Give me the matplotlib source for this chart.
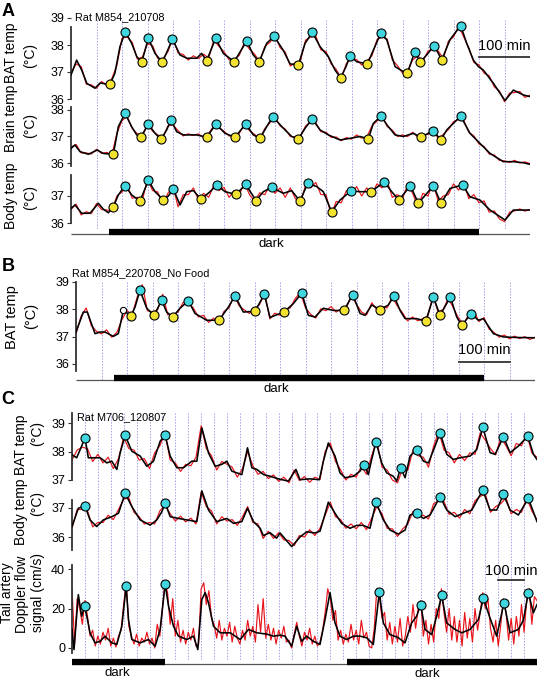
import numpy as np
import matplotlib
matplotlib.use("Agg")
import matplotlib.pyplot as plt

plt.rcParams['font.family'] = ['Liberation Sans', 'DejaVu Sans']

W, H = 546, 685

# ---------------- data (time in minutes) ----------------
# Panel A, Rat M854_210708 : BAT temp
a_bat_t = [0, 11, 21, 31, 47, 57, 76.5, 86, 96, 106.5, 119, 129, 138.6, 151.7, 164.7, 179, 199, 213.7, 227, 246.5,
           256, 266, 283.7, 298.7, 320, 344.5, 357.5, 369, 383.7, 398, 416, 429.5, 445.8, 458.9, 473.3, 488.3, 504.6,
           517.7, 528.8, 539.3, 547.1, 560.2, 581.1, 592.9, 607.2, 619, 635.4, 648.4, 659.6, 673.9, 684.4, 697.4, 711.8,
           720.3, 726.8, 743.2, 764.1, 775.9, 789, 798.8, 808.6, 828.2, 851.1, 867.4, 887, 900]
a_bat_v = [36.89, 37.44, 37.07, 36.58, 36.40, 36.59, 36.54, 36.95, 37.94, 38.49, 38.06, 37.57, 37.36, 38.25, 37.69, 37.36,
           38.21, 37.63, 37.51, 37.51, 37.69, 37.42, 38.25, 37.69, 37.38, 38.15, 37.63, 37.38, 38.06, 38.33, 37.81, 37.30,
           37.26, 38.06, 38.47, 37.94, 37.57, 37.07, 36.79, 37.20, 37.60, 37.38, 37.30, 37.81, 38.43, 38.20, 37.20, 37.05,
           36.95, 37.75, 37.36, 37.63, 37.97, 37.69, 37.44, 38.20, 38.72, 38.06, 37.44, 37.20, 37.07, 36.58, 35.94, 36.33,
           36.15, 36.09]
a_bat_raw = [36.95, 37.30, 37.20, 36.55, 36.52, 36.40, 36.65, 36.50, 36.75, 37.25,
             38.25, 38.30, 38.10, 37.48, 37.55, 38.05, 37.98, 37.50, 37.48, 37.75,
             38.28, 37.70, 37.65, 37.44, 37.60, 37.50, 37.66, 37.52, 38.18, 37.95,
             37.75, 37.45, 37.46, 37.62, 38.10, 37.85, 37.66, 37.38, 37.95, 38.10,
             38.36, 37.90, 37.74, 37.22, 37.35, 37.42, 38.18, 38.30, 38.33, 37.82,
             37.76, 37.30, 37.10, 36.76, 37.32, 37.48, 37.46, 37.26, 37.40, 37.60,
             38.20, 38.30, 38.22, 37.45, 37.24, 36.96, 37.05, 37.45, 37.60, 37.40,
             37.78, 37.85, 37.78, 37.50, 38.14, 38.30, 38.70, 38.30, 37.90, 37.35,
             37.26, 36.96, 36.86, 36.45, 36.30, 35.90, 36.22, 36.24, 36.28, 36.06,
             36.14]
a_bat_peak_t = [106.5, 151.7, 199, 283.7, 344.5, 398, 473.3, 547.1, 607.2, 673.9, 711.8, 764.1]
a_bat_peak_v = [38.49, 38.25, 38.21, 38.25, 38.15, 38.33, 38.47, 37.60, 38.43, 37.75, 37.97, 38.72]
a_bat_low_t = [76.5, 138.6, 179, 266, 320, 369, 445.8, 528.8, 581.1, 659.6, 684.4, 726.8]
a_bat_low_v = [36.54, 37.36, 37.36, 37.42, 37.38, 37.38, 37.26, 36.79, 37.30, 36.95, 37.36, 37.44]

# Panel A : Brain temp
a_brain_t = [0, 7.8, 17.6, 34, 51.6, 63.4, 83, 92.8, 105.9, 119, 128.8, 137.3, 151.7, 164.8, 176.5, 187.6, 196.1, 207.2,
             220.3, 246.4, 266, 284.3, 302, 321.6, 342.5, 357.5, 370.6, 383.7, 395.5, 416.4, 432.7, 445.8, 458.9, 472.9,
             488.3, 504.6, 527.5, 547.1, 566.7, 583, 592.9, 608, 619, 635.4, 651.7, 671.3, 685.7, 710.5, 725, 736.8,
             753.2, 764, 782.3, 798.8, 821.7, 847.8, 867.4, 887, 900]
a_brain_v = [36.55, 36.68, 36.43, 36.33, 36.49, 36.36, 36.33, 37.37, 37.87, 37.37, 37.06, 36.99, 37.47, 37.12, 36.89,
             37.25, 37.62, 37.18, 37.06, 37.06, 36.97, 37.47, 37.12, 36.97, 37.47, 37.06, 36.93, 37.37, 37.75, 37.31,
             37.0, 36.91, 37.31, 37.66, 37.25, 37.06, 36.87, 36.93, 37.0, 36.91, 37.5, 37.77, 37.45, 37.06, 37.0, 37.12,
             36.97, 37.22, 36.87, 37.25, 37.56, 37.77, 37.12, 36.8, 36.36, 36.05, 36.05, 36.01, 35.95]
a_brain_raw = [36.60, 36.70, 36.38, 36.38, 36.34, 36.52, 36.36, 36.40, 36.30, 37.12,
               37.60, 37.76, 37.30, 37.10, 37.02, 37.46, 37.20, 37.06, 36.96, 37.40,
               37.44, 37.22, 37.02, 37.10, 37.04, 37.10, 36.96, 37.12, 37.40, 37.32,
               37.20, 37.02, 37.02, 37.12, 37.46, 37.22, 37.08, 36.90, 37.30, 37.52,
               37.72, 37.40, 37.28, 37.00, 36.98, 37.00, 37.40, 37.55, 37.52, 37.18,
               37.16, 36.97, 36.98, 36.84, 36.96, 36.90, 37.06, 36.94, 36.98, 37.40,
               37.58, 37.78, 37.38, 37.24, 37.00, 37.06, 37.00, 37.16, 36.98, 37.06,
               37.08, 37.26, 36.92, 37.08, 37.26, 37.56, 37.64, 37.62, 37.16, 37.02,
               36.72, 36.62, 36.34, 36.30, 36.10, 36.08, 36.02, 36.10, 36.00, 36.04,
               35.98]
a_brain_peak_t = [105.9, 151.7, 196.1, 284.3, 342.5, 395.5, 472.9, 608, 710.5, 764]
a_brain_peak_v = [37.87, 37.47, 37.62, 37.47, 37.47, 37.75, 37.66, 37.77, 37.22, 37.77]
a_brain_low_t = [83, 137.3, 176.5, 266, 321.6, 370.6, 445.8, 583, 685.7, 725]
a_brain_low_v = [36.33, 36.99, 36.89, 36.97, 36.97, 36.93, 36.91, 36.91, 36.97, 36.87]

# Panel A : Body temp
a_body_t = [0, 7.8, 20.9, 37.3, 53.7, 63.5, 73.3, 83, 92.8, 105.9, 119, 135.3, 151.7, 164.8, 181.1, 190.9, 200.7, 213.8,
            226.9, 240, 255, 272.7, 285.7, 302, 323.6, 342.5, 362.8, 377.2, 393.5, 416.4, 432.7, 449, 464.1, 481.7,
            494.7, 511.1, 527.5, 549.1, 566.7, 588.3, 614.4, 628.8, 642.9, 665.5, 681.1, 710.5, 725.6, 743.2, 768,
            782.3, 801.9, 821.5, 851.1, 867.4, 900]
a_body_v = [36.54, 36.67, 36.36, 36.36, 36.73, 36.51, 36.38, 36.6, 37.04, 37.38, 37.04, 36.81, 37.58, 37.16, 36.85, 37.0,
            37.25, 36.67, 37.16, 37.2, 36.88, 37.16, 37.41, 37.16, 37.06, 37.43, 36.83, 37.16, 37.32, 37.1, 37.2, 36.81,
            37.47, 37.35, 37.16, 36.41, 36.85, 37.19, 37.16, 37.16, 37.52, 37.16, 36.85, 37.38, 36.73, 37.38, 36.73,
            37.28, 37.41, 36.97, 36.85, 36.48, 36.11, 36.48, 36.48]
a_body_raw = [36.50, 36.70, 36.30, 36.42, 36.35, 36.72, 36.50, 36.48, 36.45, 37.00,
              37.15, 37.40, 36.92, 36.95, 36.85, 37.62, 37.20, 37.15, 36.70, 37.10,
              37.35, 36.60, 37.05, 37.05, 37.30, 36.85, 37.10, 36.95, 37.40, 37.20,
              37.32, 36.95, 37.20, 37.05, 37.48, 37.05, 36.80, 37.12, 37.05, 37.40,
              37.10, 37.30, 36.95, 37.30, 36.90, 36.75, 37.40, 37.30, 37.50, 37.05,
              37.05, 36.30, 36.80, 36.75, 37.20, 37.05, 37.35, 37.00, 37.30, 37.05,
              37.45, 37.30, 37.55, 36.95, 37.05, 36.90, 37.42, 37.10, 36.60, 37.10,
              37.00, 37.50, 36.80, 37.00, 37.05, 37.45, 37.22, 37.50, 36.90, 37.05,
              36.75, 36.82, 36.40, 36.45, 36.15, 36.05, 36.40, 36.45, 36.52, 36.44,
              36.50]
a_body_peak_t = [105.9, 151.7, 200.7, 285.7, 342.5, 393.5, 464.1, 549.1, 614.4, 665.5, 710.5, 768]
a_body_peak_v = [37.38, 37.58, 37.25, 37.41, 37.43, 37.32, 37.47, 37.19, 37.52, 37.38, 37.38, 37.41]
a_body_low_t = [83, 135.3, 181.1, 255, 323.6, 362.8, 449, 511.1, 588.3, 642.9, 681.1, 725.6]
a_body_low_v = [36.6, 36.81, 36.85, 36.88, 37.06, 36.83, 36.81, 36.41, 37.16, 36.85, 36.73, 36.73]

# Panel B, Rat M854_220708_No Food : BAT temp
b_bat_t = [0, 14.4, 22.2, 37.3, 47.1, 56.9, 73.2, 83, 92.8, 107.9, 115.7, 125.5, 138.6, 153, 168, 177.8, 189.6, 203.9,
           220.3, 233.3, 256.2, 280.4, 298.7, 311.8, 328.1, 351, 369.3, 380.4, 393.5, 407.9, 426.2, 442.6, 455.6, 468.7,
           485, 504.6, 525.5, 542.6, 557, 566.8, 579.9, 596.1, 612.5, 623.6, 635.4, 645.2, 668.1, 685.7, 700.7, 713.8,
           734, 746.5, 756.3, 774.6, 789, 798.8, 818.4, 838, 864.2, 900]
b_bat_v = [37.17, 37.9, 37.9, 37.11, 37.17, 37.17, 37.01, 37.11, 37.96, 37.76, 38.08, 38.7, 38.04, 37.78, 38.33, 37.9,
           37.72, 38.04, 38.31, 37.85, 37.6, 37.6, 38.08, 38.49, 37.9, 37.93, 38.55, 37.7, 37.8, 37.9, 38.21, 38.6, 37.78,
           37.72, 38.04, 37.96, 37.96, 38.54, 37.85, 37.78, 38.16, 37.99, 38.16, 38.49, 37.96, 37.66, 37.66, 37.56, 38.45,
           37.78, 38.45, 37.72, 37.41, 37.84, 37.6, 37.66, 37.11, 36.99, 36.97, 36.96]
b_bat_raw = [37.10, 37.75, 38.05, 37.40, 37.20, 37.10, 37.25, 36.98, 37.15, 37.62,
             37.95, 37.80, 38.45, 38.90, 37.95, 37.90, 37.98, 38.55, 37.80, 37.80,
             37.90, 38.25, 38.24, 38.05, 37.72, 37.78, 37.52, 37.68, 37.45, 37.92,
             38.05, 38.52, 38.12, 37.98, 37.85, 38.00, 38.18, 38.60, 37.65, 37.86,
             37.78, 38.00, 38.05, 38.40, 38.62, 38.05, 37.82, 37.68, 38.02, 37.95,
             38.10, 37.90, 38.02, 38.05, 38.50, 38.18, 37.90, 37.80, 38.24, 37.98,
             38.10, 38.05, 38.46, 38.12, 37.88, 37.58, 37.72, 37.58, 37.66, 37.75,
             38.50, 37.90, 38.00, 38.40, 38.05, 37.68, 37.45, 37.82, 37.95, 37.55,
             37.70, 37.28, 37.15, 36.98, 37.06, 36.92, 37.02, 36.93, 37.00, 36.90,
             36.98]
b_bat_peak_t = [125.5, 168, 220.3, 311.8, 369.3, 442.6, 542.6, 623.6, 700.7, 734, 774.6]
b_bat_peak_v = [38.7, 38.33, 38.31, 38.49, 38.55, 38.6, 38.54, 38.49, 38.45, 38.45, 37.84]
b_bat_low_t = [107.9, 153, 189.6, 280.4, 351, 407.9, 525.5, 596.1, 685.7, 713.8, 756.3]
b_bat_low_v = [37.76, 37.78, 37.72, 37.6, 37.93, 37.9, 37.96, 37.99, 37.56, 37.78, 37.41]
b_bat_open_t = [92.8]
b_bat_open_v = [37.96]

# Panel C, Rat M706_120807 : BAT temp
c_bat_t = [0, 18.1, 37.4, 50.3, 63.2, 89, 109, 134.8, 154.2, 173.5, 186.4, 205.7, 231.5, 263.8, 289.6, 315.4, 341.2,
           360.6, 379.9, 405.7, 431.5, 463.8, 483.2, 502.6, 528.4, 554.2, 580, 599.4, 618.7, 657.4, 679.4, 696.2, 715.6,
           741.4, 767.2, 798.7, 837.4, 867, 882.6, 921.3, 957.6, 973, 992.3, 1018.1, 1037.4, 1056.8, 1089, 1115, 1131.6,
           1147.1, 1160, 1176.8, 1198.8, 1218.2, 1244, 1256.9, 1272.3, 1289.3, 1308.7, 1334.5, 1360.3, 1379.7, 1405.5,
           1424.9, 1450.7, 1476.5, 1502.3, 1541, 1566.8, 1590, 1618.4, 1637.8, 1670, 1695.9, 1728.1, 1764.3, 1786.2, 1800]
c_bat_v = [37.89, 37.78, 38.19, 38.48, 37.78, 37.78, 37.78, 37.6, 37.66, 37.37, 37.95, 38.57, 38.01, 37.84, 37.48, 37.66,
           38.36, 38.57, 37.84, 37.43, 37.43, 37.66, 37.66, 38.83, 37.95, 37.48, 37.55, 37.66, 37.31, 37.19, 38.13, 37.43,
           37.37, 37.19, 37.13, 37.04, 36.96, 37.37, 37.01, 37.04, 37.01, 37.66, 38.3, 37.84, 37.25, 37.08, 37.13, 37.31,
           37.54, 37.19, 37.72, 38.33, 37.6, 37.25, 37.13, 36.96, 37.43, 37.08, 37.84, 38.07, 37.66, 37.6, 38.19, 38.66,
           37.9, 37.72, 37.78, 37.84, 38.07, 38.85, 37.96, 37.9, 38.51, 37.96, 38.19, 38.54, 37.9, 37.72]
c_bat_raw = [37.70, 38.05, 38.15, 38.10, 37.65, 37.90, 37.60, 37.80, 37.40, 37.75,
             38.50, 38.10, 38.05, 37.70, 37.75, 37.40, 37.95, 38.20, 38.65, 37.70,
             37.60, 37.30, 37.55, 37.50, 37.80, 38.90, 38.10, 37.85, 37.35, 37.65,
             37.55, 37.45, 37.10, 37.40, 38.00, 37.50, 37.20, 37.30, 37.05, 37.18,
             36.95, 37.10, 36.90, 37.35, 36.98, 37.12, 36.92, 37.10, 37.02, 38.00,
             38.30, 37.65, 37.35, 37.00, 37.20, 37.10, 37.48, 37.20, 37.85, 38.40,
             37.45, 37.35, 37.00, 36.90, 37.40, 37.35, 38.05, 37.85, 37.80, 37.45,
             38.20, 38.70, 38.05, 37.95, 37.60, 37.90, 37.68, 37.95, 37.90, 38.65,
             38.40, 38.10, 37.88, 38.50, 38.20, 37.85, 38.28, 38.20, 38.62, 37.95,
             37.80]
c_bat_peak_t = [50.3, 205.7, 360.6, 1131.6, 1176.8, 1272.3, 1334.5, 1424.9, 1590, 1670, 1764.3]
c_bat_peak_v = [38.48, 38.57, 38.57, 37.54, 38.33, 37.43, 38.07, 38.66, 38.85, 38.51, 38.54]

# Panel C : Body temp
c_body_t = [0, 24.5, 50.3, 69.7, 95.5, 121.3, 154.2, 180, 205.7, 231.5, 263.8, 302.5, 328.3, 347.7, 360.6, 379.9, 412.2,
            444.4, 483.2, 502.6, 528.4, 560.6, 599.4, 625.2, 657.4, 679.4, 702.7, 728.5, 740.6, 766.5, 792.2, 805.2,
            850.5, 882.6, 908.4, 940.6, 960, 973, 992.3, 1018.1, 1043.9, 1076.1, 1101.9, 1127.7, 1153.5, 1176.8, 1205.3,
            1231.1, 1263.3, 1289.3, 1308.7, 1334.5, 1360.3, 1386.1, 1424.9, 1450.7, 1483, 1515.2, 1547.5, 1590, 1618.4,
            1644.2, 1670, 1695.9, 1728.1, 1766.6, 1800]
c_body_v = [36.36, 36.99, 37.08, 36.59, 36.36, 36.59, 36.7, 36.82, 37.51, 37.05, 36.59, 36.41, 36.59, 36.87, 37.18, 36.7,
            36.64, 36.59, 36.53, 37.59, 36.93, 36.53, 36.64, 36.47, 36.53, 36.99, 36.53, 36.3, 36.05, 36.15, 35.96, 36.14,
            35.67, 36.0, 36.18, 36.14, 36.2, 36.59, 37.2, 36.82, 36.47, 36.3, 36.4, 36.4, 36.3, 37.2, 36.59, 36.24, 36.1,
            36.24, 36.76, 36.82, 36.64, 36.76, 37.39, 36.93, 36.7, 36.82, 36.93, 37.62, 36.93, 36.93, 37.47, 36.93, 36.76,
            37.33, 36.53]
c_body_raw = [36.30, 36.95, 36.95, 36.90, 36.35, 36.50, 36.50, 36.75, 36.60, 36.95,
              37.30, 37.35, 36.85, 36.70, 36.45, 36.50, 36.45, 36.90, 37.10, 36.80,
              36.55, 36.72, 36.52, 36.65, 36.45, 37.55, 37.05, 36.90, 36.45, 36.70,
              36.55, 36.60, 36.40, 36.70, 37.05, 36.50, 36.45, 35.95, 36.20, 35.95,
              36.15, 35.90, 35.88, 35.70, 36.05, 36.00, 36.25, 36.05, 36.30, 36.75,
              37.20, 36.70, 36.60, 36.30, 36.45, 36.28, 36.50, 36.25, 36.65, 37.05,
              36.80, 36.30, 36.28, 36.02, 36.28, 36.45, 36.88, 36.70, 36.75, 36.62,
              37.15, 37.25, 37.22, 36.78, 36.85, 36.65, 36.95, 36.80, 37.25, 37.40,
              37.48, 36.85, 37.05, 37.15, 37.35, 36.80, 36.95, 36.85, 37.35, 36.90,
              36.60]
c_body_peak_t = [50.3, 205.7, 360.6, 1176.8, 1334.5, 1424.9, 1590, 1670, 1766.6]
c_body_peak_v = [37.08, 37.51, 37.18, 37.2, 36.82, 37.39, 37.62, 37.47, 37.33]

# Panel C : tail artery Doppler flow signal (cm/s)
c_flow_t = [0, 7.7, 24.5, 37.4, 48.4, 59.9, 69.7, 89, 109, 127.7, 154.2, 173.5, 192.9, 209.6, 218.7, 231.5, 263.8, 296.1,
            321.9, 341.2, 360.6, 373.5, 392.9, 412.2, 444.4, 470.2, 487, 502.6, 515.5, 528.4, 547.8, 573.6, 612.3, 651,
            683.3, 715.6, 754.3, 780.1, 805.9, 824.5, 850.3, 869.7, 889, 908.4, 934.2, 960, 979.4, 998.7, 1018.1, 1037.4,
            1063.2, 1089, 1114.8, 1140.6, 1166.4, 1189.6, 1205.1, 1230.9, 1263.2, 1289, 1314.8, 1334.2, 1349.7, 1366.5,
            1392.3, 1411.6, 1431, 1450.4, 1482.6, 1508.4, 1540.7, 1573, 1592.3, 1618.1, 1643.9, 1672.3, 1695.6, 1727.9,
            1747.2, 1766.5, 1785.9, 1800]
c_flow_v = [9.4, -0.8, 27, 16.1, 21.2, 14.4, 7.7, 2.6, 3.4, 6, 2.6, 1.8, 11, 31.3, 14.4, 4.3, 2.6, 4.3, 0.9, 9.4, 32.5,
            21.2, 11, 6, 4.3, 6, -0.8, 24.6, 28, 22.9, 11, 7.7, 7.7, 4.3, 9.4, 7.7, 7, 6, 6.5, 6, 0.9, 11, 3.4, 6, 3.4,
            1.8, 14.4, 28, 12.7, 6, 4.3, 6, 6, 5.2, 1.8, 28.3, 12.7, 6.8, 5.2, 2.6, 12.7, 16.1, 22, 9.4, 6.8, 16.1, 26.6,
            12.7, 9.4, 7.7, 9.4, 14.4, 25.1, 15.2, 6, 22.9, 7.7, 9.4, 14, 28, 17.8, 22]
c_flow_raw = [30, 2, 25, 20, 12, 24, 16, 6, 9, 1,
              6, 2, 8, 4, 10, 1, 5, 0.5, 6, 9,
              22, 33, 11, 6, 2, 7, 1, 5, 3, 8,
              2, 5, 0, 12, 6, 20, 33, 28, 12, 25,
              6, 14, 3, 9, 2, 8, 4, 10, 1, 2,
              30, 33, 22, 29, 15, 12, 5, 14, 4, 10,
              6, 13, 3, 11, 5, 2, 9, 4, 14, 6,
              11, 3, 22, 8, 25, 5, 12, 4, 10, 2,
              9, 5, 11, 3, 4, 0, 7, 13, 6, 1,
              8, 4, 10, 2, 6, 1, 3, 9, 18, 30,
              25, 14, 19, 4, 9, 2, 7, 3, 12, 4,
              9, 2, 14, 5, 8, 1, 0, 10, 30, 26,
              15, 18, 4, 13, 2, 11, 3, 15, 1, 6,
              16, 8, 22, 10, 20, 24, 6, 14, 2, 12,
              3, 20, 15, 30, 18, 8, 20, 4, 16, 3,
              14, 1, 18, 5, 15, 3, 20, 9, 18, 28,
              20, 25, 10, 3, 14, 1, 12, 25, 18, 4,
              15, 2, 16, 6, 22, 8, 24, 30, 12, 26,
              24]
c_flow_peak_t = [48.4, 209.6, 360.6, 1189.6, 1349.7, 1431, 1592.3, 1672.3, 1766.5]
c_flow_peak_v = [21.2, 31.3, 32.5, 28.3, 22, 26.6, 25.1, 22.9, 28]

# dark phases (min)
a_dark = [(75, 800)]
b_dark = [(75, 800)]
c_dark = [(0, 360), (1065, 1800)]

RED = '#e8141c'
CYAN = '#3fd6df'
YELLOW = '#f2e331'
GRID = '#a3a3ec'
SPINE = '#333333'

fig = plt.figure(figsize=(W / 100, H / 100), dpi=100)


def px_axes(x0, x1, top, bot):
    return fig.add_axes([x0 / W, 1 - bot / H, (x1 - x0) / W, (bot - top) / H])


def panel_bg(x0, x1, top, bot, tmax, grid_top, grid_bot):
    bg = px_axes(x0, x1, top, bot)
    bg.set_xlim(0, tmax)
    bg.set_ylim(bot, top)
    bg.axis('off')
    bg.vlines(np.arange(50, tmax + 1, 50), grid_top, grid_bot, colors=GRID,
              linewidth=0.7, linestyles=(0, (1.5, 1.5)))
    return bg


def trace_axes(x0, x1, tmax, ref, ylim, bounds, ticks, fs):
    (v1, p1), (v2, p2) = ref
    k = (p1 - p2) / (v2 - v1)
    top = p2 - (ylim[1] - v2) * k
    bot = p1 + (v1 - ylim[0]) * k
    ax = px_axes(x0, x1, top, bot)
    ax.set_xlim(0, tmax)
    ax.set_ylim(*ylim)
    ax.patch.set_visible(False)
    for s in ('top', 'right', 'bottom'):
        ax.spines[s].set_visible(False)
    ax.spines['left'].set_bounds(*bounds)
    ax.spines['left'].set_color(SPINE)
    ax.spines['left'].set_linewidth(1.3)
    ax.set_xticks([])
    ax.set_yticks(ticks)
    ax.tick_params(axis='y', length=3, width=0.8, pad=2, labelsize=fs, colors='black')
    ax.tick_params(axis='y', color=SPINE)
    return ax


def draw_trace(ax, tmax, t, v, raw, peaks=None, lows=None, opens=None):
    ax.plot(np.linspace(0, tmax, len(raw)), raw, color=RED, lw=0.85, zorder=2)
    ax.plot(t, v, color='black', lw=1.15, zorder=3)
    for pts, fc in ((peaks, CYAN), (lows, YELLOW), (opens, 'white')):
        if pts is None:
            continue
        ax.plot(pts[0], pts[1], 'o', ms=6.5 if fc != 'white' else 4.5, mfc=fc, mec='black',
                mew=0.8, zorder=5, clip_on=False)


def dark_bar(bg, spans, y, tmax, lw=4.5):
    bg.plot([0, tmax], [y + 1.5, y + 1.5], color='#555555', lw=0.9, solid_capstyle='butt')
    for d0, d1 in spans:
        bg.plot([d0, d1], [y, y], color='black', lw=lw, solid_capstyle='butt')


def scale_bar(bg, t0, y_bar, y_txt, fs):
    bg.plot([t0, t0 + 100], [y_bar, y_bar], color='#333333', lw=1.3)
    bg.text(t0 + 50, y_txt, '100 min', ha='center', va='center', fontsize=fs)


def ftext(x, y, s, **kw):
    fig.text(x / W, 1 - y / H, s, **kw)


# ---------------- panel A ----------------
bg = panel_bg(71, 530, 10, 250, 900, 20, 230)
dark_bar(bg, a_dark, 232, 900)
bg.text(392, 244, 'dark', ha='center', va='center', fontsize=9.5)
scale_bar(bg, 800, 57, 46, 10.5)

ax = trace_axes(71, 530, 900, ((36, 99), (39, 18)), (35.85, 39.05), (36, 38.65), [36, 37, 38, 39], 9)
draw_trace(ax, 900, a_bat_t, a_bat_v, a_bat_raw, (a_bat_peak_t, a_bat_peak_v), (a_bat_low_t, a_bat_low_v))
ax = trace_axes(71, 530, 900, ((36, 163), (38, 110)), (35.85, 38.15), (35.9, 38.1), [36, 37, 38], 9)
draw_trace(ax, 900, a_brain_t, a_brain_v, a_brain_raw, (a_brain_peak_t, a_brain_peak_v),
           (a_brain_low_t, a_brain_low_v))
ax = trace_axes(71, 530, 900, ((36, 223), (37, 196)), (35.9, 37.8), (36, 37.78), [36, 37], 9)
draw_trace(ax, 900, a_body_t, a_body_v, a_body_raw, (a_body_peak_t, a_body_peak_v), (a_body_low_t, a_body_low_v))

ftext(8, 12, 'A', fontsize=13, fontweight='bold', ha='center', va='center')
ftext(75, 17, 'Rat M854_210708', fontsize=7.8, ha='left', va='center')
for txt, x, y in (('BAT temp', 11, 53), ('(°C)', 30, 56), ('Brain temp', 11, 118), ('(°C)', 30, 125),
                  ('Body temp', 11, 196), ('(°C)', 30, 198)):
    ftext(x, y, txt, fontsize=10, rotation=90, ha='center', va='center')

# ---------------- panel B ----------------
bg = panel_bg(76, 535, 270, 400, 900, 282, 380)
dark_bar(bg, b_dark, 378, 900)
bg.text(392, 389, 'dark', ha='center', va='center', fontsize=9.5)
scale_bar(bg, 750, 362, 350, 10.5)

ax = trace_axes(76, 535, 900, ((36, 364), (39, 282)), (35.6, 39.05), (35.75, 39), [36, 37, 38, 39], 9)
draw_trace(ax, 900, b_bat_t, b_bat_v, b_bat_raw, (b_bat_peak_t, b_bat_peak_v), (b_bat_low_t, b_bat_low_v),
           (b_bat_open_t, b_bat_open_v))

ftext(8, 267, 'B', fontsize=13, fontweight='bold', ha='center', va='center')
ftext(72, 273, 'Rat M854_220708_No Food', fontsize=7.8, ha='left', va='center')
ftext(12, 317, 'BAT temp', fontsize=10.5, rotation=90, ha='center', va='center')
ftext(31, 316, '(°C)', fontsize=10.5, rotation=90, ha='center', va='center')

# ---------------- panel C ----------------
bg = panel_bg(72, 537, 405, 685, 1800, 413, 660)
dark_bar(bg, c_dark, 662, 1800)
bg.text(174, 673, 'dark', ha='center', va='center', fontsize=9.5)
bg.text(1374, 674, 'dark', ha='center', va='center', fontsize=9.5)
scale_bar(bg, 1650, 580, 571, 10.5)

ax = trace_axes(72, 537, 1800, ((37, 480), (39, 423)), (36.8, 39.35), (37.0, 39.35), [37, 38, 39], 9)
draw_trace(ax, 1800, c_bat_t, c_bat_v, c_bat_raw, (c_bat_peak_t, c_bat_peak_v))
ax = trace_axes(72, 537, 1800, ((36, 537), (37, 508)), (35.3, 37.8), (35.55, 37.28), [36, 37], 9)
draw_trace(ax, 1800, c_body_t, c_body_v, c_body_raw, (c_body_peak_t, c_body_peak_v))
ax = trace_axes(72, 537, 1800, ((0, 648), (40, 569)), (-5, 43), (-2.5, 42), [0, 20, 40], 9)
draw_trace(ax, 1800, c_flow_t, c_flow_v, c_flow_raw, (c_flow_peak_t, c_flow_peak_v))

ftext(8, 400, 'C', fontsize=13, fontweight='bold', ha='center', va='center')
ftext(77, 417, 'Rat M706_120807', fontsize=7.8, ha='left', va='center')
for txt, x, y in (('BAT temp', 21, 445), ('(°C)', 37, 433), ('Body temp', 21, 512), ('(°C)', 37, 503),
                  ('Tail artery', 7, 593), ('Doppler flow', 22, 594), ('signal (cm/s)', 38, 593)):
    ftext(x, y, txt, fontsize=10, rotation=90, ha='center', va='center')

fig.savefig('out.png', dpi=100)
